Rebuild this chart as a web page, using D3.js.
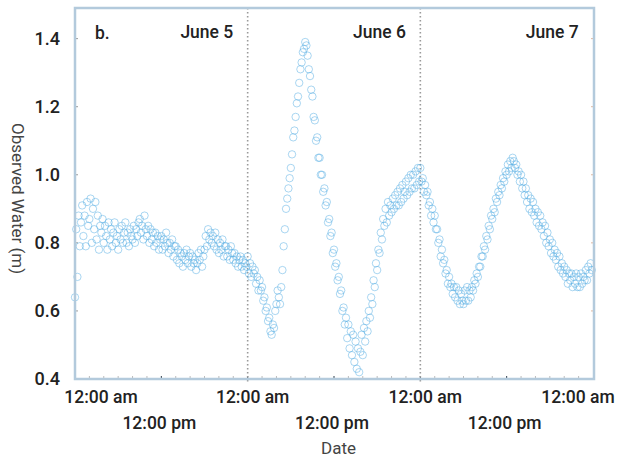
<!DOCTYPE html>
<html>
<head>
<meta charset="utf-8">
<script src="https://cdn.jsdelivr.net/npm/d3@7"></script>
<style>
  body { margin: 0; background: #fff; }
  svg text { font-family: Roboto, "Liberation Sans", sans-serif; }
</style>
</head>
<body>
<div id="chart"></div>
<script>
// observed water level (m), one reading every 10 minutes, one row per hour
var june5 = [
  0.64, 0.84, 0.70, 0.88, 0.79, 0.86,  0.91, 0.82, 0.88, 0.79, 0.92, 0.85,
  0.87, 0.93, 0.80, 0.90, 0.84, 0.92,  0.81, 0.88, 0.78, 0.85, 0.83, 0.87,
  0.80, 0.85, 0.82, 0.78, 0.86, 0.81,  0.84, 0.79, 0.83, 0.86, 0.80, 0.82,
  0.78, 0.84, 0.81, 0.85, 0.80, 0.83,  0.86, 0.80, 0.83, 0.79, 0.84, 0.82,
  0.81, 0.85, 0.80, 0.84, 0.82, 0.86,  0.87, 0.83, 0.85, 0.81, 0.88, 0.84,
  0.82, 0.85, 0.80, 0.84, 0.81, 0.83,  0.79, 0.83, 0.80, 0.82, 0.78, 0.81,
  0.82, 0.78, 0.81, 0.79, 0.83, 0.80,  0.77, 0.80, 0.78, 0.81, 0.76, 0.79,
  0.79, 0.75, 0.78, 0.74, 0.77, 0.76,  0.73, 0.77, 0.75, 0.78, 0.74, 0.76,
  0.77, 0.73, 0.76, 0.74, 0.75, 0.72,  0.74, 0.77, 0.75, 0.78, 0.73, 0.76,
  0.78, 0.82, 0.79, 0.84, 0.81, 0.83,  0.80, 0.82, 0.79, 0.83, 0.78, 0.81,
  0.77, 0.80, 0.78, 0.81, 0.76, 0.79,  0.79, 0.76, 0.78, 0.75, 0.79, 0.77,
  0.75, 0.77, 0.74, 0.76, 0.73, 0.75,  0.76, 0.73, 0.75, 0.72, 0.74, 0.73
];
var june6 = [
  0.76, 0.71, 0.74, 0.70, 0.73, 0.71,  0.72, 0.68, 0.70, 0.66, 0.69, 0.66,
  0.67, 0.63, 0.64, 0.60, 0.61, 0.57,  0.58, 0.54, 0.53, 0.56, 0.55, 0.60,
  0.62, 0.66, 0.64, 0.62, 0.67, 0.72,  0.79, 0.84, 0.90, 0.93, 0.96, 0.99,
  1.02, 1.06, 1.11, 1.13, 1.17, 1.21,  1.23, 1.27, 1.31, 1.33, 1.36, 1.37,
  1.39, 1.38, 1.35, 1.31, 1.29, 1.25,  1.23, 1.17, 1.16, 1.10, 1.11, 1.05,
  1.05, 1.00, 1.00, 0.95, 0.96, 0.91,  0.92, 0.86, 0.87, 0.82, 0.83, 0.77,
  0.78, 0.73, 0.74, 0.69, 0.70, 0.65,  0.66, 0.60, 0.61, 0.56, 0.58, 0.52,
  0.56, 0.49, 0.54, 0.47, 0.53, 0.45,  0.51, 0.43, 0.49, 0.42, 0.48, 0.53,
  0.47, 0.55, 0.51, 0.57, 0.54, 0.60,  0.58, 0.64, 0.62, 0.69, 0.67, 0.74,
  0.72, 0.78, 0.77, 0.83, 0.81, 0.87,  0.85, 0.90, 0.86, 0.92, 0.88, 0.91,
  0.89, 0.93, 0.90, 0.94, 0.91, 0.95,  0.91, 0.96, 0.92, 0.97, 0.93, 0.95,
  0.98, 0.94, 0.99, 0.95, 1.00, 0.96,  1.00, 0.96, 1.01, 0.97, 1.02, 0.98
];
var june7 = [
  1.02, 0.98, 0.99, 0.95, 0.97, 0.94,  0.95, 0.91, 0.92, 0.88, 0.90, 0.86,
  0.88, 0.84, 0.84, 0.80, 0.81, 0.76,  0.78, 0.74, 0.75, 0.71, 0.72, 0.68,
  0.70, 0.67, 0.68, 0.65, 0.67, 0.64,  0.67, 0.63, 0.66, 0.62, 0.65, 0.63,
  0.62, 0.66, 0.63, 0.67, 0.63, 0.66,  0.64, 0.67, 0.66, 0.69, 0.68, 0.71,
  0.70, 0.73, 0.73, 0.76, 0.76, 0.79,  0.78, 0.82, 0.81, 0.85, 0.84, 0.88,
  0.87, 0.90, 0.89, 0.93, 0.92, 0.95,  0.94, 0.97, 0.96, 0.99, 0.98, 1.01,
  1.00, 1.03, 1.01, 1.04, 1.02, 1.05,  1.04, 1.02, 1.03, 1.00, 1.01, 0.98,
  1.00, 0.96, 0.98, 0.94, 0.96, 0.92,  0.94, 0.90, 0.93, 0.89, 0.92, 0.88,
  0.90, 0.86, 0.89, 0.85, 0.88, 0.84,  0.86, 0.82, 0.85, 0.80, 0.83, 0.79,
  0.81, 0.77, 0.80, 0.76, 0.78, 0.75,  0.77, 0.73, 0.76, 0.72, 0.74, 0.71,
  0.73, 0.70, 0.72, 0.68, 0.71, 0.69,  0.71, 0.67, 0.70, 0.68, 0.71, 0.67,
  0.70, 0.67, 0.71, 0.68, 0.70, 0.69,  0.72, 0.69, 0.73, 0.71, 0.74, 0.72
];
var dayLabels = ['June 5', 'June 6', 'June 7'];
var yTicks = [0.4, 0.6, 0.8, 1.0, 1.2, 1.4];

var width = 621, height = 458;
var margin = {top: 8, right: 27, bottom: 79, left: 75};

var start = new Date(2011, 5, 5, 0, 0);
var end = new Date(2011, 5, 8, 0, 0);
var points = [];
[june5, june6, june7].forEach(function(day, d){
  day.forEach(function(v, i){
    points.push({time: d3.timeMinute.offset(start, d * 1440 + i * 10), value: v});
  });
});

var svg = d3.select('#chart').append('svg')
  .attr('width', width)
  .attr('height', height);

var x = d3.scaleTime()
  .domain([start, end])
  .range([margin.left, width - margin.right - 1]);
var y = d3.scaleLinear()
  .domain([0.4, 1.49])
  .range([height - margin.bottom, margin.top]);

var x0 = margin.left, x1 = width - margin.right,
    y0 = height - margin.bottom, y1 = margin.top;

// small inner ticks every 2 hours along the bottom
svg.append('g')
  .selectAll('line')
  .data(d3.timeHour.every(2).range(start, end))
  .enter().append('line')
    .attr('x1', function(d){ return x(d); })
    .attr('x2', function(d){ return x(d); })
    .attr('y1', y0)
    .attr('y2', y0 - 3)
    .attr('stroke', function(d){ return d.getHours() % 12 === 0 ? '#2a3a48' : '#bbb'; })
    .attr('stroke-width', 1);

// small ticks on left and right for the y values
svg.append('g')
  .selectAll('line')
  .data(yTicks.slice(1))
  .enter().append('line')
    .attr('x1', x0)
    .attr('x2', x0 + 3)
    .attr('y1', function(d){ return y(d); })
    .attr('y2', function(d){ return y(d); })
    .attr('stroke', '#999');
svg.append('g')
  .selectAll('line')
  .data(yTicks.slice(1))
  .enter().append('line')
    .attr('x1', x1)
    .attr('x2', x1 - 3)
    .attr('y1', function(d){ return y(d); })
    .attr('y2', function(d){ return y(d); })
    .attr('stroke', '#e0b8a0');

// dotted day boundaries
svg.append('g')
  .selectAll('line')
  .data(d3.timeDay.range(d3.timeDay.offset(start, 1), end))
  .enter().append('line')
    .attr('x1', function(d){ return x(d); })
    .attr('x2', function(d){ return x(d); })
    .attr('y1', y1)
    .attr('y2', y0 + 5)
    .attr('stroke', '#9a9a9a')
    .attr('stroke-width', 1.6)
    .attr('stroke-dasharray', '1.6,2.4');

// the readings
svg.append('g')
  .selectAll('circle')
  .data(points)
  .enter().append('circle')
    .attr('cx', function(d){ return x(d.time); })
    .attr('cy', function(d){ return y(d.value); })
    .attr('r', 3.7)
    .attr('fill', 'none')
    .attr('stroke', '#55aee3')
    .attr('stroke-opacity', 0.5)
    .attr('stroke-width', 1);

// frame
svg.append('rect')
  .attr('x', x0)
  .attr('y', y1)
  .attr('width', x1 - x0)
  .attr('height', y0 - y1)
  .attr('fill', 'none')
  .attr('stroke', '#b3cadc')
  .attr('stroke-width', 2.5);

// y tick labels
svg.append('g')
  .selectAll('text')
  .data(yTicks)
  .enter().append('text')
    .attr('x', x0 - 15)
    .attr('y', function(d){ return y(d); })
    .attr('dy', '0.36em')
    .attr('text-anchor', 'end')
    .attr('font-size', 18)
    .attr('font-weight', 500)
    .attr('fill', '#222')
    .text(function(d){ return d3.format('.1f')(d); });

// x tick labels: midnight on the first row, noon on the second
var labelFmt = d3.timeFormat('%-I:%M');
svg.append('g')
  .selectAll('text')
  .data(d3.timeHour.every(12).range(start, d3.timeMinute.offset(end, 1)))
  .enter().append('text')
    .attr('x', function(d){
      var cx = x(d) + (d.getHours() === 0 ? 5 : -2);
      return Math.min(Math.max(cx, 66 + 35), 613 - 35);
    })
    .attr('y', function(d){ return d.getHours() === 0 ? 403 : 429; })
    .attr('text-anchor', 'middle')
    .attr('font-size', 17.5)
    .attr('font-weight', 500)
    .attr('fill', '#222')
    .text(function(d){ return labelFmt(d) + (d.getHours() < 12 ? ' am' : ' pm'); });

// day labels
svg.append('g')
  .selectAll('text')
  .data(dayLabels)
  .enter().append('text')
    .attr('x', function(d, i){ return x(d3.timeHour.offset(start, i * 24 + 22)); })
    .attr('y', 38)
    .attr('text-anchor', 'end')
    .attr('font-size', 17.5)
    .attr('font-weight', 500)
    .attr('fill', '#222')
    .text(function(d){ return d; });

svg.append('text')
  .attr('x', 95)
  .attr('y', 39)
  .attr('font-size', 17.5)
  .attr('font-weight', 500)
  .attr('fill', '#222')
  .text('b.');

// axis titles
svg.append('text')
  .attr('x', (x0 + x1) / 2 + 4)
  .attr('y', 454)
  .attr('text-anchor', 'middle')
  .attr('font-size', 17)
  .attr('fill', '#444')
  .text('Date');

svg.append('text')
  .attr('transform', 'translate(12,' + ((y0 + y1) / 2 + 5) + ') rotate(90)')
  .attr('text-anchor', 'middle')
  .attr('font-size', 17)
  .attr('fill', '#444')
  .text('Observed Water (m)');
</script>
</body>
</html>
